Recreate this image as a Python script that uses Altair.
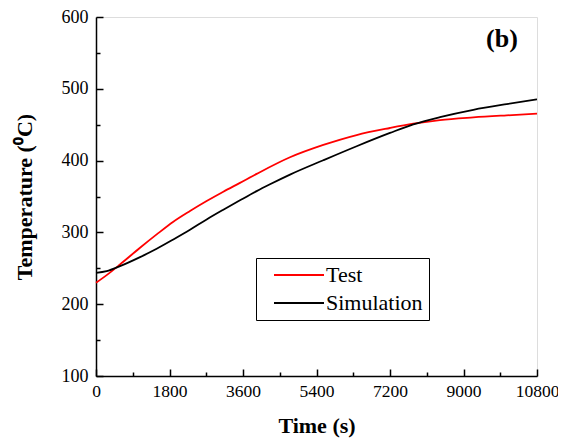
import altair as alt
import pandas as pd

# ---- data ----
test_t = [0, 261, 588, 1078, 1486, 1894, 2302, 2710, 3118, 3526, 3935, 4751, 5567, 6383, 7200, 7771, 8424, 9241, 10057, 10800]
test_v = [229.8, 240.5, 255.3, 278.6, 297.2, 314.9, 329.8, 343.7, 356.7, 369, 381.5, 404.6, 421.8, 435.6, 445.4, 451.4, 456.5, 460.2, 463, 465.3]

sim_t = [0, 261, 588, 1078, 1486, 1894, 2302, 2710, 3118, 3526, 3934, 4261, 4751, 5567, 6383, 7200, 7771, 8424, 9241, 10057, 10800]
sim_v = [243.7, 246, 253, 265.6, 277.2, 290.2, 303.7, 318.1, 331.6, 344.7, 357.5, 367, 380.5, 400.5, 420, 438.5, 450.5, 460.6, 470.8, 478.7, 485.2]

series_names = ["Test", "Simulation"]
series_colors = ["#ff0000", "#000000"]

x_major = [0, 1800, 3600, 5400, 7200, 9000, 10800]
x_minor = [900, 2700, 4500, 6300, 8100, 9900]
y_major = [100, 200, 300, 400, 500, 600]
y_minor = [150, 250, 350, 450, 550]

panel_label = ["(b)"]
panel_t = [9943]
panel_v = [569]

W, H = 441, 359
FONT = "Liberation Serif"

df = pd.concat([
    pd.DataFrame({"t": test_t, "v": test_v, "series": "Test", "order": 0}),
    pd.DataFrame({"t": sim_t, "v": sim_v, "series": "Simulation", "order": 1}),
])
lab = pd.DataFrame({"t": panel_t, "v": panel_v, "txt": panel_label})

xscale = alt.Scale(domain=[0, 10800], nice=False, zero=False)
yscale = alt.Scale(domain=[100, 600], nice=False, zero=False)

color = alt.Color(
    "series:N",
    scale=alt.Scale(domain=series_names, range=series_colors),
    sort=series_names,
    legend=alt.Legend(
        title=None, orient="none", legendX=160, legendY=241,
        symbolType="M-5,0H5", symbolSize=100, symbolStrokeWidth=2,
        symbolOffset=26, labelOffset=16,
        labelFont=FONT, labelFontSize=22, labelColor="black",
        strokeColor="black", fillColor="white", padding=6, rowPadding=6,
    ),
)

lines = alt.Chart(df).mark_line(strokeWidth=1.8, interpolate="monotone").encode(
    x=alt.X("t:Q", scale=xscale, title="Time (s)",
            axis=alt.Axis(values=x_major, format="d", ticks=False, grid=False, domainColor="black",
                          domainWidth=1.5, labelFont=FONT, labelFontSize=17.5, labelColor="black",
                          labelPadding=6, titleFont=FONT, titleFontSize=22, titleFontWeight="bold",
                          titleColor="black", titlePadding=16, labelFlush=False, orient="bottom")),
    y=alt.Y("v:Q", scale=yscale, title="Temperature (\u2070C)",
            axis=alt.Axis(values=y_major, format="d", ticks=False, grid=False, domainColor="black",
                          domainWidth=1.5, labelFont=FONT, labelFontSize=18, labelColor="black",
                          labelPadding=8, titleFont=FONT, titleFontSize=22, titleFontWeight="bold",
                          titleColor="black", titlePadding=25, labelFlush=False, orient="left")),
    color=color,
    detail="series:N",
    order="order:Q",
)

major = alt.Chart(lab).mark_text(font=FONT, fontSize=26, fontWeight="bold", color="black").encode(
    x=alt.X("t:Q", scale=xscale, title=None,
            axis=alt.Axis(orient="top", offset=-H, values=x_major, labels=False, domain=False,
                          grid=False, ticks=True, tickSize=7, tickWidth=1.5, tickColor="black")),
    y=alt.Y("v:Q", scale=yscale, title=None,
            axis=alt.Axis(orient="right", offset=-W, values=y_major, labels=False, domain=False,
                          grid=False, ticks=True, tickSize=7, tickWidth=1.5, tickColor="black")),
    text="txt:N",
)

minor = alt.Chart(lab).mark_point(opacity=0).encode(
    x=alt.X("t:Q", scale=xscale, title=None,
            axis=alt.Axis(orient="top", offset=-H, values=x_minor, labels=False, domain=False,
                          grid=False, ticks=True, tickSize=4, tickWidth=1.5, tickColor="black")),
    y=alt.Y("v:Q", scale=yscale, title=None,
            axis=alt.Axis(orient="right", offset=-W, values=y_minor, labels=False, domain=False,
                          grid=False, ticks=True, tickSize=4, tickWidth=1.5, tickColor="black")),
)

chart = alt.layer(lines, major, minor).resolve_axis(
    x="independent", y="independent"
).properties(
    width=W, height=H,
    autosize=alt.AutoSizeParams(type="none"),
    padding={"left": 88, "top": 9, "right": 21, "bottom": 63},
).configure_view(stroke=None).configure(background="white")

chart.save("out.html", embed_options={"renderer": "svg", "actions": False})
